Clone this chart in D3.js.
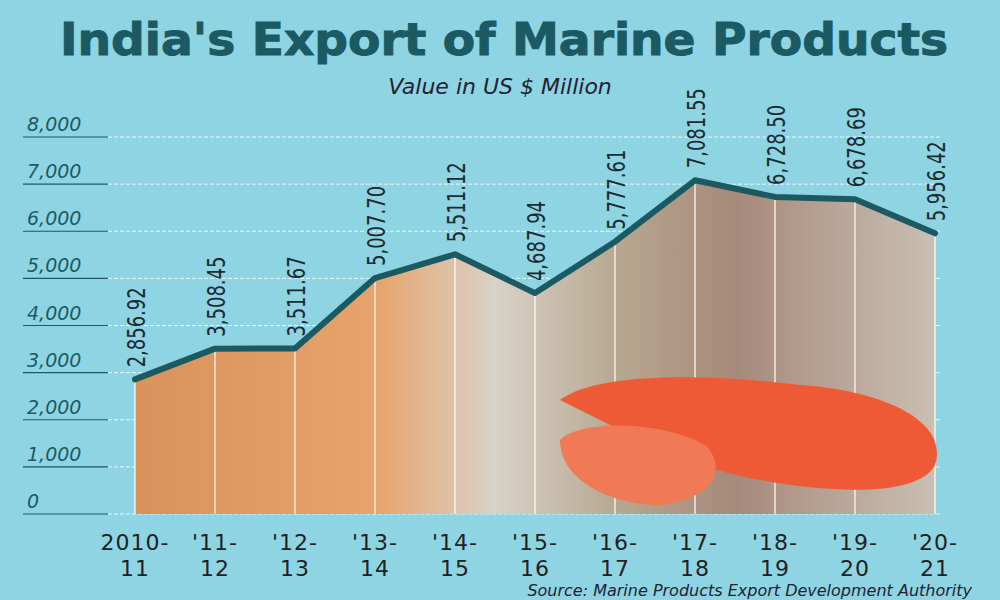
<!DOCTYPE html><html><head><meta charset="utf-8"><script src="https://cdn.jsdelivr.net/npm/d3@7"></script>
<style>body{margin:0;background:#8fd4e2}</style></head><body><svg id="c" width="1000" height="600"></svg>
<script>
const yearsTop=["2010-","'11-","'12-","'13-","'14-","'15-","'16-","'17-","'18-","'19-","'20-"];
const yearsBot=["11","12","13","14","15","16","17","18","19","20","21"];
const values=[2856.92,3508.45,3511.67,5007.70,5511.12,4687.94,5777.61,7081.55,6728.50,6678.69,5956.42];
const labels=["2,856.92","3,508.45","3,511.67","5,007.70","5,511.12","4,687.94","5,777.61","7,081.55","6,728.50","6,678.69","5,956.42"];
const yTicks=[0,1000,2000,3000,4000,5000,6000,7000,8000];
const svg=d3.select("#c");
svg.append("rect").attr("width",1000).attr("height",600).attr("fill","#8fd4e2");
const dark="#1b5a63";
const x=d3.scalePoint().domain(d3.range(values.length)).range([135,935]);
const y=d3.scaleLinear().domain([0,8000]).range([514,137]);
svg.append("text").attr("x",60).attr("y",55).attr("font-family","DejaVu Sans").attr("font-weight","bold").attr("font-size",44).attr("fill",dark).attr("textLength",888).attr("lengthAdjust","spacingAndGlyphs").attr("stroke",dark).attr("stroke-width",1).text("India's Export of Marine Products");
svg.append("text").attr("x",500).attr("y",94).attr("text-anchor","middle").attr("font-family","DejaVu Sans").attr("font-style","italic").attr("font-size",22).attr("fill","#223").text("Value in US $ Million");
yTicks.forEach(t=>{
 svg.append("line").attr("x1",23).attr("x2",108).attr("y1",y(t)).attr("y2",y(t)).attr("stroke",dark).attr("stroke-width",1.2);
 svg.append("line").attr("x1",108).attr("x2",940).attr("y1",y(t)).attr("y2",y(t)).attr("stroke","#e6f7fa").attr("stroke-dasharray","4,2").attr("stroke-width",1);
 svg.append("text").attr("x",27).attr("y",y(t)-6).attr("font-family","DejaVu Sans").attr("font-style","italic").attr("font-size",19).attr("fill",dark).text(d3.format(",")(t));
});
const defs=svg.append("defs");
const g=defs.append("linearGradient").attr("id","fg").attr("x1",0).attr("x2",1).attr("y1",0).attr("y2",0);
[[0,"#d9925a"],[0.3,"#e8a36a"],[0.45,"#d8d2c8"],[0.6,"#b8a890"],[0.75,"#a6897a"],[1,"#c9bfb2"]].forEach(s=>g.append("stop").attr("offset",s[0]).attr("stop-color",s[1]));
const area=d3.area().x((d,i)=>x(i)).y0(y(0)).y1(d=>y(d));
svg.append("path").datum(values).attr("d",area).attr("fill","url(#fg)");
values.forEach((v,i)=>svg.append("line").attr("x1",x(i)).attr("x2",x(i)).attr("y1",y(v)).attr("y2",y(0)).attr("stroke","#fff").attr("stroke-width",1.5).attr("opacity",0.8));
const sh=svg.append("g");
sh.append("path").attr("d","M560,400 C600,370 720,375 800,385 C880,390 950,420 935,465 C920,495 840,495 760,480 C700,470 640,440 600,420 Z").attr("fill","#ee5a35");
sh.append("path").attr("d","M560,440 C580,420 660,420 705,445 C730,470 710,500 660,505 C610,505 560,480 560,440 Z").attr("fill","#f07a55");
svg.append("path").datum(values).attr("d",d3.line().x((d,i)=>x(i)).y(d=>y(d))).attr("fill","none").attr("stroke",dark).attr("stroke-width",6).attr("stroke-linejoin","round").attr("stroke-linecap","round");
values.forEach((v,i)=>svg.append("text").attr("transform",`translate(${x(i)+10},${y(v)-12}) rotate(-90) scale(0.72,1)`).attr("font-family","DejaVu Sans").attr("font-size",25).attr("fill","#1c2a33").text(labels[i]));
yearsTop.forEach((t,i)=>{
 svg.append("text").attr("x",x(i)).attr("y",550).attr("text-anchor","middle").attr("font-family","DejaVu Sans").attr("font-size",22).attr("letter-spacing",1).attr("fill","#222").text(t);
 svg.append("text").attr("x",x(i)).attr("y",576).attr("text-anchor","middle").attr("font-family","DejaVu Sans").attr("font-size",22).attr("letter-spacing",1).attr("fill","#222").text(yearsBot[i]);
});
svg.append("text").attr("x",972).attr("y",596).attr("text-anchor","end").attr("font-family","DejaVu Sans").attr("font-style","italic").attr("font-size",16).attr("fill","#223").text("Source: Marine Products Export Development Authority");
</script></body></html>
